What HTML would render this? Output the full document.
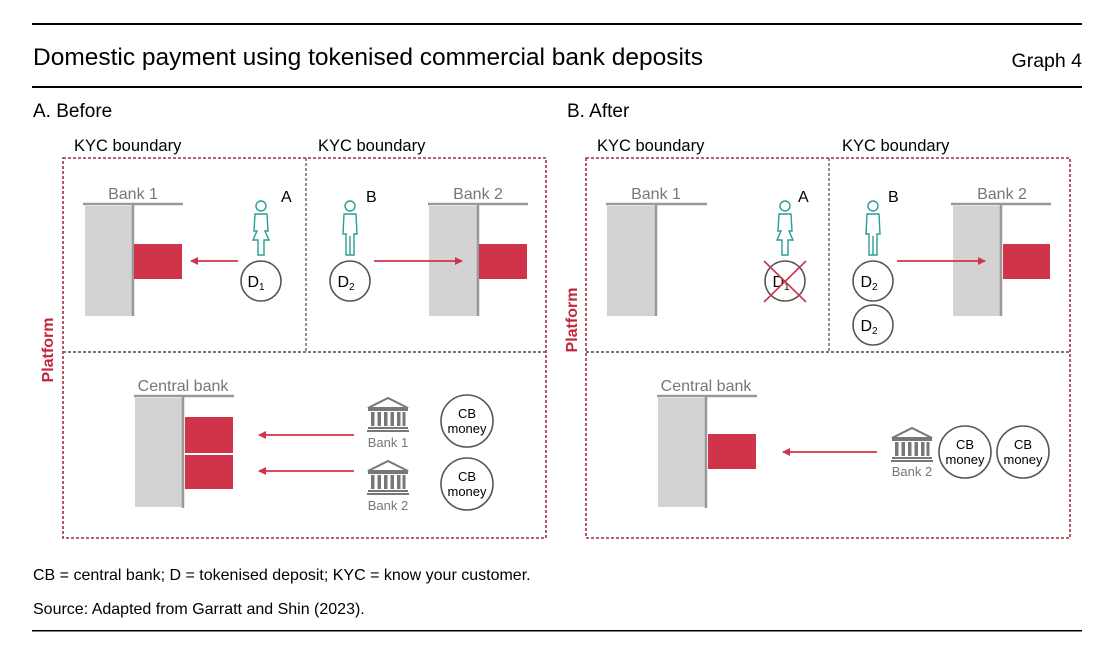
<!DOCTYPE html>
<html><head><meta charset="utf-8"><style>
body{margin:0;background:#fff}
svg{display:block}
text{font-family:"Liberation Sans",sans-serif}
</style></head><body>
<svg width="1113" height="666" viewBox="0 0 1113 666" xmlns="http://www.w3.org/2000/svg">
<defs>
<marker id="ar" markerWidth="8" markerHeight="8" refX="7" refY="4" orient="auto" markerUnits="userSpaceOnUse"><path d="M0,0 L8,4 L0,8 Z" fill="#d0344a"/></marker>
<g id="woman" fill="none" stroke="#2a9d94" stroke-width="1.4">
<circle cx="0" cy="-22" r="5"/>
<path d="M-6,-14 L6,-14 L7,3 L4,3 L8,12 L3,12 L3,27 L-3,27 L-3,12 L-8,12 L-4,3 L-7,3 Z"/>
</g>
<g id="man" fill="none" stroke="#2a9d94" stroke-width="1.4">
<circle cx="0" cy="-22" r="5"/>
<path d="M-6,-14 L6,-14 L7,6 L4,6 L4,27 L-4,27 L-4,6 L-7,6 Z M0,8 L0,27"/>
</g>
<g id="bank" fill="#777">
<path d="M-20,-6 L0,-16 L20,-6 Z" fill="none" stroke="#777" stroke-width="2"/>
<rect x="-20" y="-5" width="40" height="2"/>
<rect x="-17" y="-2" width="3.5" height="14"/><rect x="-10.5" y="-2" width="3.5" height="14"/><rect x="-4" y="-2" width="3.5" height="14"/><rect x="2.5" y="-2" width="3.5" height="14"/><rect x="9" y="-2" width="3.5" height="14"/><rect x="14.5" y="-2" width="3" height="14"/>
<rect x="-20" y="13" width="40" height="2"/><rect x="-21" y="16" width="42" height="2"/>
</g>
</defs>
<rect x="32" y="23" width="1050" height="2" fill="#000"/>
<text x="33" y="65" font-size="24.5" fill="#000">Domestic payment using tokenised commercial bank deposits</text>
<text x="1082" y="67" font-size="19.5" text-anchor="end">Graph 4</text>
<rect x="32" y="86" width="1050" height="2" fill="#000"/>
<text x="33" y="117" font-size="19">A. Before</text>
<text x="567" y="117" font-size="19">B. After</text>
<text x="33" y="580" font-size="16">CB = central bank; D = tokenised deposit; KYC = know your customer.</text>
<text x="33" y="614" font-size="16">Source: Adapted from Garratt and Shin (2023).</text>
<rect x="32" y="630" width="1050" height="1.5" fill="#000"/>

<!-- Panel A -->
<text x="74" y="151" font-size="16.5">KYC boundary</text>
<text x="318" y="151" font-size="16.5">KYC boundary</text>
<rect x="63" y="158" width="483" height="380" fill="none" stroke="#a3303f" stroke-width="1.6" stroke-dasharray="3,2"/>
<line x1="63" y1="352" x2="546" y2="352" stroke="#777" stroke-width="2" stroke-dasharray="3,2"/>
<line x1="306" y1="158" x2="306" y2="352" stroke="#555" stroke-width="1.3" stroke-dasharray="3,2"/>
<text transform="translate(53,350) rotate(-90)" font-size="16" font-weight="bold" fill="#c0283e" text-anchor="middle">Platform</text>

<text x="133" y="199" font-size="16" fill="#777" text-anchor="middle">Bank 1</text>
<rect x="85" y="206" width="48" height="110" fill="#d3d3d3"/>
<line x1="83" y1="204" x2="183" y2="204" stroke="#999" stroke-width="2.5"/>
<line x1="133" y1="204" x2="133" y2="316" stroke="#999" stroke-width="2.5"/>
<rect x="134" y="244" width="48" height="35" fill="#d0344a"/>
<line x1="238" y1="261" x2="191" y2="261" stroke="#d0344a" stroke-width="1.8" marker-end="url(#ar)"/>
<use href="#woman" x="261" y="228"/>
<text x="281" y="202" font-size="16">A</text>
<circle cx="261" cy="281" r="20" fill="none" stroke="#555" stroke-width="1.6"/>
<text x="256" y="287" font-size="16" text-anchor="middle">D<tspan font-size="10" dy="3">1</tspan></text>

<use href="#man" x="350" y="228"/>
<text x="366" y="202" font-size="16">B</text>
<circle cx="350" cy="281" r="20" fill="none" stroke="#555" stroke-width="1.6"/>
<text x="346" y="287" font-size="16" text-anchor="middle">D<tspan font-size="10" dy="3">2</tspan></text>
<text x="478" y="199" font-size="16" fill="#777" text-anchor="middle">Bank 2</text>
<rect x="429" y="206" width="48" height="110" fill="#d3d3d3"/>
<line x1="428" y1="204" x2="528" y2="204" stroke="#999" stroke-width="2.5"/>
<line x1="478" y1="204" x2="478" y2="316" stroke="#999" stroke-width="2.5"/>
<rect x="479" y="244" width="48" height="35" fill="#d0344a"/>
<line x1="374" y1="261" x2="462" y2="261" stroke="#d0344a" stroke-width="1.8" marker-end="url(#ar)"/>

<text x="183" y="391" font-size="16" fill="#777" text-anchor="middle">Central bank</text>
<rect x="135" y="398" width="48" height="109" fill="#d3d3d3"/>
<line x1="134" y1="396" x2="234" y2="396" stroke="#999" stroke-width="2.5"/>
<line x1="183" y1="396" x2="183" y2="508" stroke="#999" stroke-width="2.5"/>
<rect x="185" y="417" width="48" height="36" fill="#d0344a"/>
<rect x="185" y="455" width="48" height="34" fill="#d0344a"/>
<line x1="354" y1="435" x2="259" y2="435" stroke="#d0344a" stroke-width="1.8" marker-end="url(#ar)"/>
<line x1="354" y1="471" x2="259" y2="471" stroke="#d0344a" stroke-width="1.8" marker-end="url(#ar)"/>
<use href="#bank" x="388" y="414"/>
<text x="388" y="447" font-size="13" fill="#777" text-anchor="middle">Bank 1</text>
<use href="#bank" x="388" y="477"/>
<text x="388" y="510" font-size="13" fill="#777" text-anchor="middle">Bank 2</text>
<circle cx="467" cy="421" r="26" fill="none" stroke="#555" stroke-width="1.6"/>
<text x="467" y="418" font-size="13" text-anchor="middle">CB</text><text x="467" y="433" font-size="13" text-anchor="middle">money</text>
<circle cx="467" cy="484" r="26" fill="none" stroke="#555" stroke-width="1.6"/>
<text x="467" y="481" font-size="13" text-anchor="middle">CB</text><text x="467" y="496" font-size="13" text-anchor="middle">money</text>

<!-- Panel B -->
<text x="597" y="151" font-size="16.5">KYC boundary</text>
<text x="842" y="151" font-size="16.5">KYC boundary</text>
<rect x="586" y="158" width="484" height="380" fill="none" stroke="#a3303f" stroke-width="1.6" stroke-dasharray="3,2"/>
<line x1="586" y1="352" x2="1070" y2="352" stroke="#777" stroke-width="2" stroke-dasharray="3,2"/>
<line x1="829" y1="158" x2="829" y2="352" stroke="#555" stroke-width="1.3" stroke-dasharray="3,2"/>
<text transform="translate(577,320) rotate(-90)" font-size="16" font-weight="bold" fill="#c0283e" text-anchor="middle">Platform</text>

<text x="656" y="199" font-size="16" fill="#777" text-anchor="middle">Bank 1</text>
<rect x="607" y="206" width="49" height="110" fill="#d3d3d3"/>
<line x1="606" y1="204" x2="707" y2="204" stroke="#999" stroke-width="2.5"/>
<line x1="656" y1="204" x2="656" y2="316" stroke="#999" stroke-width="2.5"/>
<use href="#woman" x="785" y="228"/>
<text x="798" y="202" font-size="16">A</text>
<circle cx="785" cy="281" r="20" fill="none" stroke="#555" stroke-width="1.6"/>
<text x="781" y="287" font-size="16" text-anchor="middle">D<tspan font-size="10" dy="3">1</tspan></text>
<line x1="764" y1="261" x2="806" y2="302" stroke="#d0344a" stroke-width="1.6"/>
<line x1="806" y1="261" x2="764" y2="302" stroke="#d0344a" stroke-width="1.6"/>

<use href="#man" x="873" y="228"/>
<text x="888" y="202" font-size="16">B</text>
<circle cx="873" cy="281" r="20" fill="none" stroke="#555" stroke-width="1.6"/>
<text x="869" y="287" font-size="16" text-anchor="middle">D<tspan font-size="10" dy="3">2</tspan></text>
<circle cx="873" cy="325" r="20" fill="none" stroke="#555" stroke-width="1.6"/>
<text x="869" y="331" font-size="16" text-anchor="middle">D<tspan font-size="10" dy="3">2</tspan></text>
<text x="1002" y="199" font-size="16" fill="#777" text-anchor="middle">Bank 2</text>
<rect x="953" y="206" width="48" height="110" fill="#d3d3d3"/>
<line x1="951" y1="204" x2="1051" y2="204" stroke="#999" stroke-width="2.5"/>
<line x1="1001" y1="204" x2="1001" y2="316" stroke="#999" stroke-width="2.5"/>
<rect x="1003" y="244" width="47" height="35" fill="#d0344a"/>
<line x1="897" y1="261" x2="985" y2="261" stroke="#d0344a" stroke-width="1.8" marker-end="url(#ar)"/>

<text x="706" y="391" font-size="16" fill="#777" text-anchor="middle">Central bank</text>
<rect x="658" y="398" width="48" height="109" fill="#d3d3d3"/>
<line x1="657" y1="396" x2="757" y2="396" stroke="#999" stroke-width="2.5"/>
<line x1="706" y1="396" x2="706" y2="508" stroke="#999" stroke-width="2.5"/>
<rect x="708" y="434" width="48" height="35" fill="#d0344a"/>
<line x1="877" y1="452" x2="783" y2="452" stroke="#d0344a" stroke-width="1.8" marker-end="url(#ar)"/>
<use href="#bank" x="912" y="444"/>
<text x="912" y="476" font-size="13" fill="#777" text-anchor="middle">Bank 2</text>
<circle cx="965" cy="452" r="26" fill="none" stroke="#555" stroke-width="1.6"/>
<text x="965" y="449" font-size="13" text-anchor="middle">CB</text><text x="965" y="464" font-size="13" text-anchor="middle">money</text>
<circle cx="1023" cy="452" r="26" fill="none" stroke="#555" stroke-width="1.6"/>
<text x="1023" y="449" font-size="13" text-anchor="middle">CB</text><text x="1023" y="464" font-size="13" text-anchor="middle">money</text>
</svg>
</body></html>
